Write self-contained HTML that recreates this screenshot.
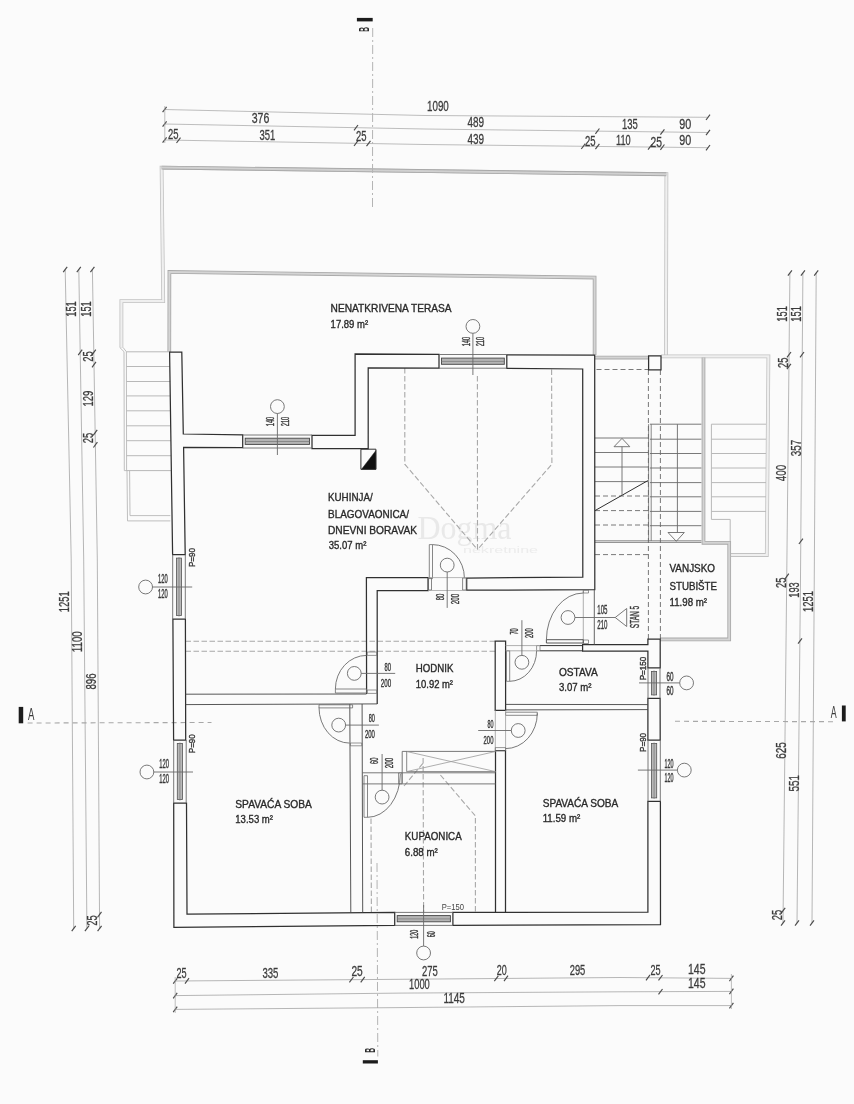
<!DOCTYPE html>
<html lang="hr"><head><meta charset="utf-8"><title>Tlocrt</title>
<style>
html,body{margin:0;padding:0;background:#fbfbfb;}
body{width:854px;height:1104px;overflow:hidden;}
svg{display:block;opacity:0.999;will-change:transform;}
</style></head><body>
<svg width="854" height="1104" viewBox="0 0 854 1104">
<rect width="854" height="1104" fill="#fbfbfb"/>
<text x="417.4" y="539.0" font-family='"Liberation Serif", serif' font-size="33" fill="#e9e9e9" text-anchor="start" font-weight="normal" textLength="94.0" lengthAdjust="spacingAndGlyphs" >Dogma</text>
<text x="463.0" y="553.0" font-family='"Liberation Sans", sans-serif' font-size="9" fill="#ececec" text-anchor="start" font-weight="normal" textLength="75.0" lengthAdjust="spacingAndGlyphs" >nekretnine</text>
<path d="M121.4,347.5 L121.4,301.1 L163.2,301.1 L161.6,167.6 L666.4,174.1 L666.0,355.0" fill="none" stroke="#c2c2c2" stroke-width="3.8" stroke-linejoin="miter"/>
<path d="M121.4,347.5 L121.4,301.1 L163.2,301.1 L161.6,167.6 L666.4,174.1 L666.0,355.0" fill="none" stroke="#efefef" stroke-width="2.2" stroke-linejoin="miter"/>
<path d="M161.6,167.6 L666.3,174.2" fill="none" stroke="#a8a8a8" stroke-width="3.9" />
<path d="M161.6,167.6 L666.3,174.2" fill="none" stroke="#d0d0d0" stroke-width="2.0" />
<path d="M169.3,352.0 L169.4,271.9 L594.6,277.6 L594.6,355.0" fill="none" stroke="#a8a8a8" stroke-width="3.7" stroke-linejoin="miter"/>
<path d="M169.3,352.0 L169.4,271.9 L594.6,277.6 L594.6,355.0" fill="none" stroke="#d4d4d4" stroke-width="2.0" stroke-linejoin="miter"/>
<path d="M595.0,357.6 L648.4,357.6" fill="none" stroke="#a8a8a8" stroke-width="3.7" stroke-linejoin="miter"/>
<path d="M595.0,357.6 L648.4,357.6" fill="none" stroke="#d4d4d4" stroke-width="2.0" stroke-linejoin="miter"/>
<path d="M661.0,356.3 L768.4,356.3 L766.8,555.0 L730.7,555.0" fill="none" stroke="#c2c2c2" stroke-width="3.8" stroke-linejoin="miter"/>
<path d="M661.0,356.3 L768.4,356.3 L766.8,555.0 L730.7,555.0" fill="none" stroke="#efefef" stroke-width="2.2" stroke-linejoin="miter"/>
<path d="M703.5,357.6 L703.5,542.8 L729.2,542.8 L729.2,639.4 L660.0,639.4" fill="none" stroke="#a8a8a8" stroke-width="3.7" stroke-linejoin="miter"/>
<path d="M703.5,357.6 L703.5,542.8 L729.2,542.8 L729.2,639.4 L660.0,639.4" fill="none" stroke="#d4d4d4" stroke-width="2.0" stroke-linejoin="miter"/>
<path d="M711.4,424.2 L711.4,519.4 L730.2,519.4 L730.2,541.3" fill="none" stroke="#b8b8b8" stroke-width="1.0" />
<path d="M119.8,347.5 L124.0,351.7 L124.3,470.6 L127.0,470.6" fill="none" stroke="#b8b8b8" stroke-width="0.9" />
<path d="M123.1,347.5 L126.4,351.7 L126.6,470.6" fill="none" stroke="#b8b8b8" stroke-width="0.9" />
<path d="M127.0,470.6 L127.5,520.9 L170.3,520.9" fill="none" stroke="#b8b8b8" stroke-width="0.9" />
<path d="M129.6,470.6 L130.0,515.6 L170.3,515.6" fill="none" stroke="#b8b8b8" stroke-width="0.9" />
<path d="M126.4,351.8 L169.8,351.8" fill="none" stroke="#b8b8b8" stroke-width="1.0" />
<path d="M126.4,366.5 L170.0,366.5" fill="none" stroke="#b8b8b8" stroke-width="1.0" />
<path d="M126.4,381.5 L170.2,381.5" fill="none" stroke="#b8b8b8" stroke-width="1.0" />
<path d="M126.4,395.9 L170.3,395.9" fill="none" stroke="#b8b8b8" stroke-width="1.0" />
<path d="M126.4,410.8 L170.5,410.8" fill="none" stroke="#b8b8b8" stroke-width="1.0" />
<path d="M126.4,425.8 L170.7,425.8" fill="none" stroke="#b8b8b8" stroke-width="1.0" />
<path d="M126.4,440.7 L170.9,440.7" fill="none" stroke="#b8b8b8" stroke-width="1.0" />
<path d="M126.4,455.7 L171.0,455.7" fill="none" stroke="#b8b8b8" stroke-width="1.0" />
<path d="M126.4,470.6 L171.2,470.6" fill="none" stroke="#b8b8b8" stroke-width="1.0" />
<path d="M711.4,424.2 L766.0,424.2" fill="none" stroke="#b8b8b8" stroke-width="1.0" />
<path d="M711.4,439.2 L766.0,439.2" fill="none" stroke="#b8b8b8" stroke-width="1.0" />
<path d="M711.4,453.5 L766.0,453.5" fill="none" stroke="#b8b8b8" stroke-width="1.0" />
<path d="M711.4,468.0 L766.0,468.0" fill="none" stroke="#b8b8b8" stroke-width="1.0" />
<path d="M711.4,482.6 L766.0,482.6" fill="none" stroke="#b8b8b8" stroke-width="1.0" />
<path d="M711.4,496.8 L766.0,496.8" fill="none" stroke="#b8b8b8" stroke-width="1.0" />
<path d="M711.4,511.4 L766.0,511.4" fill="none" stroke="#b8b8b8" stroke-width="1.0" />
<path d="M595.0,438.0 L648.0,438.0" fill="none" stroke="#6a6a6a" stroke-width="0.9" />
<path d="M595.0,452.5 L648.0,452.5" fill="none" stroke="#6a6a6a" stroke-width="0.9" />
<path d="M595.0,467.0 L648.0,467.0" fill="none" stroke="#6a6a6a" stroke-width="0.9" />
<path d="M595.0,481.6 L648.0,481.6" fill="none" stroke="#6a6a6a" stroke-width="0.9" />
<path d="M595.0,496.0 L648.0,496.0" fill="none" stroke="#6a6a6a" stroke-width="0.9" stroke-dasharray="5 3" />
<path d="M595.0,510.6 L648.0,510.6" fill="none" stroke="#6a6a6a" stroke-width="0.9" stroke-dasharray="5 3" />
<path d="M595.0,525.0 L648.0,525.0" fill="none" stroke="#6a6a6a" stroke-width="0.9" stroke-dasharray="5 3" />
<path d="M595.0,554.6 L648.0,554.6" fill="none" stroke="#6a6a6a" stroke-width="0.9" stroke-dasharray="5 3" />
<path d="M595.0,540.8 L701.4,540.8" fill="none" stroke="#6a6a6a" stroke-width="0.8" />
<path d="M595.0,542.4 L701.4,542.4" fill="none" stroke="#6a6a6a" stroke-width="0.8" />
<path d="M595.0,510.6 L647.9,480.6" fill="none" stroke="#303030" stroke-width="1.0" />
<path d="M614.0,446.7 L629.8,446.7 L622.0,438.4 Z" fill="none" stroke="#6a6a6a" stroke-width="0.9" />
<path d="M622.0,446.7 L622.0,495.6" fill="none" stroke="#6a6a6a" stroke-width="0.9" />
<path d="M649.9,424.2 L701.4,424.2" fill="none" stroke="#6a6a6a" stroke-width="0.9" />
<path d="M649.9,439.2 L701.4,439.2" fill="none" stroke="#6a6a6a" stroke-width="0.9" />
<path d="M649.9,453.5 L701.4,453.5" fill="none" stroke="#6a6a6a" stroke-width="0.9" />
<path d="M649.9,468.0 L701.4,468.0" fill="none" stroke="#6a6a6a" stroke-width="0.9" />
<path d="M649.9,482.6 L701.4,482.6" fill="none" stroke="#6a6a6a" stroke-width="0.9" />
<path d="M649.9,496.8 L701.4,496.8" fill="none" stroke="#6a6a6a" stroke-width="0.9" />
<path d="M649.9,511.4 L701.4,511.4" fill="none" stroke="#6a6a6a" stroke-width="0.9" />
<path d="M649.9,525.7 L701.4,525.7" fill="none" stroke="#6a6a6a" stroke-width="0.9" />
<path d="M648.6,424.2 L648.6,541.0" fill="none" stroke="#6a6a6a" stroke-width="0.8" />
<path d="M651.2,424.2 L651.2,541.0" fill="none" stroke="#6a6a6a" stroke-width="0.8" />
<path d="M677.4,424.2 L677.4,532.5" fill="none" stroke="#6a6a6a" stroke-width="0.9" />
<path d="M668.0,532.5 L684.3,532.5 L676.3,541.3 Z" fill="none" stroke="#6a6a6a" stroke-width="0.9" />
<path d="M596.5,369.5 L648.0,369.5" fill="none" stroke="#6a6a6a" stroke-width="0.9" stroke-dasharray="5 3" />
<path d="M648.4,370.0 L648.4,639.0" fill="none" stroke="#6a6a6a" stroke-width="0.9" stroke-dasharray="5 3" />
<path d="M660.4,370.0 L660.4,639.0" fill="none" stroke="#6a6a6a" stroke-width="0.9" stroke-dasharray="5 3" />
<path d="M404.8,368.0 L404.8,464.2 L477.5,549.6" fill="none" stroke="#a8a8a8" stroke-width="1.1" stroke-dasharray="5.5 2.5" />
<path d="M551.6,369.5 L551.9,464.2 L477.5,549.6" fill="none" stroke="#a8a8a8" stroke-width="1.1" stroke-dasharray="5.5 2.5" />
<path d="M477.4,376.0 L477.5,549.6" fill="none" stroke="#a8a8a8" stroke-width="1.1" stroke-dasharray="5.5 2.5" />
<path d="M185.5,641.3 L495.5,641.3" fill="none" stroke="#a8a8a8" stroke-width="1.1" stroke-dasharray="5.5 2.5" />
<path d="M185.5,651.3 L495.5,651.3" fill="none" stroke="#a8a8a8" stroke-width="1.1" stroke-dasharray="5.5 2.5" />
<path d="M371.0,818.5 L371.4,912.0" fill="none" stroke="#a8a8a8" stroke-width="1.1" stroke-dasharray="5.5 2.5" />
<path d="M440.4,775.0 L475.4,816.0 L475.4,912.0" fill="none" stroke="#a8a8a8" stroke-width="1.1" stroke-dasharray="5.5 2.5" />
<path d="M423.1,758.0 L423.6,912.0" fill="none" stroke="#a8a8a8" stroke-width="1.1" stroke-dasharray="5.5 2.5" />
<path d="M404.0,786.0 L424.0,762.0" fill="none" stroke="#a8a8a8" stroke-width="1.1" stroke-dasharray="5.5 2.5" />
<path d="M27.6,723.0 L211.5,722.5" fill="none" stroke="#a8a8a8" stroke-width="1.1" stroke-dasharray="5 4" />
<path d="M675.0,721.3 L836.8,721.7" fill="none" stroke="#a8a8a8" stroke-width="1.1" stroke-dasharray="5 4" />
<path d="M372.7,28.0 L372.5,208.0" fill="none" stroke="#b4b4b4" stroke-width="1.0" stroke-dasharray="9 3 2 3" />
<path d="M377.0,863.0 L377.8,1056.5" fill="none" stroke="#b4b4b4" stroke-width="1.0" stroke-dasharray="9 3 2 3" />
<path d="M172.6,554.6 L169.6,352.0 L181.8,352.0 L183.3,434.0 L242.7,434.9 L242.7,447.6 L183.6,447.5 L185.2,554.6 Z" fill="none" stroke="#303030" stroke-width="1.25" />
<path d="M172.9,619.0 L185.4,619.0 L185.7,740.0 L173.6,740.0 Z" fill="none" stroke="#303030" stroke-width="1.25" />
<path d="M173.7,803.1 L173.9,927.4 L394.7,925.4 L394.7,912.4 L187.0,914.1 L186.5,803.1 Z" fill="none" stroke="#303030" stroke-width="1.25" />
<path d="M452.9,912.4 L452.9,925.4 L660.5,924.7 L660.4,801.4 L647.9,801.4 L647.9,912.1 Z" fill="none" stroke="#303030" stroke-width="1.25" />
<path d="M647.9,698.4 L660.1,698.4 L660.2,740.0 L647.9,740.0 Z" fill="none" stroke="#303030" stroke-width="1.25" />
<path d="M582.6,644.6 L647.9,644.6 L647.9,639.0 L660.2,639.0 L660.2,667.9 L647.9,667.9 L647.9,651.2 L582.6,651.2 Z" fill="none" stroke="#303030" stroke-width="1.25" />
<path d="M540.0,645.6 L582.6,645.6" fill="none" stroke="#303030" stroke-width="1.0" />
<path d="M540.0,650.8 L582.6,650.8" fill="none" stroke="#303030" stroke-width="1.0" />
<path d="M495.2,641.0 L505.6,641.0 L505.6,710.3 L495.2,710.3 Z" fill="none" stroke="#303030" stroke-width="1.25" />
<path d="M495.5,912.3 L495.5,750.6 L505.5,750.6 L505.5,912.2" fill="none" stroke="#303030" stroke-width="1.25" />
<path d="M312.0,435.4 L355.1,435.4 L355.1,354.0 L439.0,354.4 L439.0,368.0 L368.2,367.8 L368.2,448.5 L312.0,448.5 Z" fill="none" stroke="#303030" stroke-width="1.25" />
<path d="M506.8,354.8 L594.7,355.2 L594.8,589.7 L466.7,590.2 L466.7,578.1 L582.8,577.1 L582.7,369.0 L506.8,368.4 Z" fill="none" stroke="#303030" stroke-width="1.25" />
<path d="M366.6,694.0 L366.4,577.6 L428.1,577.6 L428.1,590.5 L377.2,590.5 L377.2,703.9" fill="none" stroke="#303030" stroke-width="1.25" />
<path d="M648.6,355.9 L661.0,355.9 L661.0,369.8 L648.6,369.8 Z" fill="none" stroke="#303030" stroke-width="1.25" />
<path d="M360.9,449.2 L375.9,449.2 L375.9,469.3 L360.9,469.3 Z" fill="none" stroke="#303030" stroke-width="1.0" />
<path d="M375.9,450.5 L375.9,469.3 L361.5,469.3 Z" fill="#111" stroke="#303030" stroke-width="0.5" />
<path d="M185.6,694.2 L366.4,694.0" fill="none" stroke="#444" stroke-width="0.9" />
<path d="M185.6,704.6 L377.2,703.9" fill="none" stroke="#444" stroke-width="0.9" />
<path d="M349.8,704.0 L350.8,912.8" fill="none" stroke="#444" stroke-width="0.9" />
<path d="M362.1,704.0 L362.7,912.6" fill="none" stroke="#444" stroke-width="0.9" />
<path d="M362.2,772.8 L495.5,772.8" fill="none" stroke="#6a6a6a" stroke-width="0.9" />
<path d="M362.2,783.9 L495.5,783.9" fill="none" stroke="#6a6a6a" stroke-width="0.9" />
<path d="M402.2,783.5 L402.2,751.4 L495.5,751.4" fill="none" stroke="#6a6a6a" stroke-width="0.9" />
<path d="M406.7,751.1 L406.7,771.6 L495.5,771.6" fill="none" stroke="#6a6a6a" stroke-width="0.8" />
<path d="M406.7,751.5 L495.5,771.6" fill="none" stroke="#9a9a9a" stroke-width="0.8" />
<path d="M406.7,771.6 L495.5,751.5" fill="none" stroke="#9a9a9a" stroke-width="0.8" />
<path d="M505.6,704.4 L647.9,704.6" fill="none" stroke="#444" stroke-width="0.9" />
<path d="M505.6,709.9 L647.9,709.6" fill="none" stroke="#444" stroke-width="0.9" />
<path d="M583.3,590.0 L583.3,644.0" fill="none" stroke="#9a9a9a" stroke-width="0.8" />
<path d="M594.3,589.7 L594.3,644.6" fill="none" stroke="#555" stroke-width="0.9" />
<path d="M242.7,435.0 L312.0,435.0" fill="none" stroke="#6a6a6a" stroke-width="0.9" />
<path d="M242.7,448.0 L312.0,448.0" fill="none" stroke="#6a6a6a" stroke-width="0.9" />
<rect x="245.2" y="438.2" width="64.3" height="6.2" fill="#b4b4b4" stroke="#444" stroke-width="0.9"/>
<path d="M245.2,441.5 L309.5,441.5" fill="none" stroke="#777" stroke-width="0.7" />
<path d="M439.0,354.5 L506.8,354.5" fill="none" stroke="#6a6a6a" stroke-width="0.9" />
<path d="M439.0,368.2 L506.8,368.2" fill="none" stroke="#6a6a6a" stroke-width="0.9" />
<rect x="441.5" y="358.1" width="62.8" height="6.2" fill="#b4b4b4" stroke="#444" stroke-width="0.9"/>
<path d="M441.5,361.4 L504.3,361.4" fill="none" stroke="#777" stroke-width="0.7" />
<path d="M394.7,912.4 L452.9,912.4" fill="none" stroke="#6a6a6a" stroke-width="0.9" />
<path d="M394.7,925.4 L452.9,925.4" fill="none" stroke="#6a6a6a" stroke-width="0.9" />
<rect x="397.2" y="915.6" width="53.2" height="6.2" fill="#b4b4b4" stroke="#444" stroke-width="0.9"/>
<path d="M397.2,918.9 L450.4,918.9" fill="none" stroke="#777" stroke-width="0.7" />
<path d="M172.7,554.6 L172.7,619.0" fill="none" stroke="#6a6a6a" stroke-width="0.9" />
<path d="M185.3,554.6 L185.3,619.0" fill="none" stroke="#6a6a6a" stroke-width="0.9" />
<rect x="176.4" y="558.1" width="5.2" height="57.4" fill="#b8b8b8" stroke="#555" stroke-width="0.8"/>
<path d="M179.0,557.1 L179.0,616.5" fill="none" stroke="#777" stroke-width="0.7" />
<path d="M173.7,740.0 L173.7,803.1" fill="none" stroke="#6a6a6a" stroke-width="0.9" />
<path d="M186.2,740.0 L186.2,803.1" fill="none" stroke="#6a6a6a" stroke-width="0.9" />
<rect x="177.3" y="743.5" width="5.2" height="56.1" fill="#b8b8b8" stroke="#555" stroke-width="0.8"/>
<path d="M179.9,742.5 L179.9,800.6" fill="none" stroke="#777" stroke-width="0.7" />
<path d="M648.0,667.9 L648.0,698.4" fill="none" stroke="#6a6a6a" stroke-width="0.9" />
<path d="M660.0,667.9 L660.0,698.4" fill="none" stroke="#6a6a6a" stroke-width="0.9" />
<rect x="651.4" y="671.4" width="5.2" height="23.5" fill="#b8b8b8" stroke="#555" stroke-width="0.8"/>
<path d="M654.0,670.4 L654.0,695.9" fill="none" stroke="#777" stroke-width="0.7" />
<path d="M648.0,740.0 L648.0,801.4" fill="none" stroke="#6a6a6a" stroke-width="0.9" />
<path d="M660.3,740.0 L660.3,801.4" fill="none" stroke="#6a6a6a" stroke-width="0.9" />
<rect x="651.5" y="743.5" width="5.2" height="54.4" fill="#b8b8b8" stroke="#555" stroke-width="0.8"/>
<path d="M654.1,742.5 L654.1,798.9" fill="none" stroke="#777" stroke-width="0.7" />
<circle cx="277.4" cy="406.6" r="6.9" fill="none" stroke="#6a6a6a" stroke-width="0.9"/>
<path d="M277.4,413.5 L277.4,455.0" fill="none" stroke="#6a6a6a" stroke-width="0.9" />
<circle cx="472.9" cy="326.4" r="6.9" fill="none" stroke="#6a6a6a" stroke-width="0.9"/>
<path d="M472.9,333.3 L472.9,375.0" fill="none" stroke="#6a6a6a" stroke-width="0.9" />
<circle cx="145.6" cy="587.0" r="6.9" fill="none" stroke="#6a6a6a" stroke-width="0.9"/>
<path d="M152.5,587.0 L192.2,587.0" fill="none" stroke="#6a6a6a" stroke-width="0.9" />
<circle cx="146.9" cy="772.0" r="6.9" fill="none" stroke="#6a6a6a" stroke-width="0.9"/>
<path d="M153.8,772.0 L193.0,772.0" fill="none" stroke="#6a6a6a" stroke-width="0.9" />
<circle cx="686.6" cy="682.9" r="6.9" fill="none" stroke="#6a6a6a" stroke-width="0.9"/>
<path d="M679.7,682.9 L639.0,682.9" fill="none" stroke="#6a6a6a" stroke-width="0.9" />
<circle cx="684.3" cy="770.1" r="6.9" fill="none" stroke="#6a6a6a" stroke-width="0.9"/>
<path d="M677.4,770.1 L637.9,770.1" fill="none" stroke="#6a6a6a" stroke-width="0.9" />
<circle cx="423.6" cy="953.0" r="6.9" fill="none" stroke="#6a6a6a" stroke-width="0.9"/>
<path d="M423.6,946.1 L423.6,905.0" fill="none" stroke="#6a6a6a" stroke-width="0.9" />
<path d="M429.3,544.6 L432.5,544.6 L432.5,578.6 L429.3,578.6 Z" fill="none" stroke="#6a6a6a" stroke-width="0.8" />
<path d="M432.5,544.6 A32,33.4 0 0 1 464.4,578.0" fill="none" stroke="#6a6a6a" stroke-width="0.9"/>
<path d="M462.6,578.0 L466.2,578.0 L466.2,590.0 L462.6,590.0 Z" fill="none" stroke="#6a6a6a" stroke-width="0.8" />
<path d="M428.1,578.0 L431.5,578.0 L431.5,590.0 L428.1,590.0 Z" fill="none" stroke="#6a6a6a" stroke-width="0.8" />
<path d="M428.1,577.6 L466.2,577.6" fill="none" stroke="#9a9a9a" stroke-width="0.7" />
<path d="M428.1,590.5 L466.2,590.5" fill="none" stroke="#9a9a9a" stroke-width="0.7" />
<circle cx="447.2" cy="565.1" r="6.9" fill="none" stroke="#6a6a6a" stroke-width="0.9"/>
<path d="M447.2,572.0 L447.2,607.9" fill="none" stroke="#6a6a6a" stroke-width="0.9" />
<path d="M335.4,689.0 L366.6,689.0 L366.6,693.0 L335.4,693.0 Z" fill="none" stroke="#6a6a6a" stroke-width="0.8" />
<path d="M335.4,689.0 A31.2,33.6 0 0 1 366.6,655.4" fill="none" stroke="#6a6a6a" stroke-width="0.9"/>
<path d="M367.2,652.0 L376.8,652.0 L376.8,655.4 L367.2,655.4 Z" fill="none" stroke="#6a6a6a" stroke-width="0.7" />
<path d="M367.2,690.0 L376.8,690.0 L376.8,693.4 L367.2,693.4 Z" fill="none" stroke="#6a6a6a" stroke-width="0.7" />
<circle cx="354.3" cy="673.4" r="6.9" fill="none" stroke="#6a6a6a" stroke-width="0.9"/>
<path d="M361.2,673.4 L395.2,673.4" fill="none" stroke="#6a6a6a" stroke-width="0.9" />
<path d="M319.0,704.8 L352.6,704.8 L352.6,707.9 L319.0,707.9 Z" fill="none" stroke="#6a6a6a" stroke-width="0.8" />
<path d="M319.0,707.5 A30.6,35.6 0 0 0 349.6,743.1" fill="none" stroke="#6a6a6a" stroke-width="0.9"/>
<path d="M350.4,743.0 L361.8,743.0 L361.8,745.8 L350.4,745.8 Z" fill="none" stroke="#6a6a6a" stroke-width="0.7" />
<circle cx="338.7" cy="725.1" r="6.9" fill="none" stroke="#6a6a6a" stroke-width="0.9"/>
<path d="M345.6,725.1 L378.9,725.1" fill="none" stroke="#6a6a6a" stroke-width="0.9" />
<path d="M364.0,775.7 L367.5,775.7 L367.5,817.3 L364.0,817.3 Z" fill="none" stroke="#6a6a6a" stroke-width="0.8" />
<path d="M367.5,817.3 A32.8,43.3 0 0 0 400.3,774.0" fill="none" stroke="#6a6a6a" stroke-width="0.9"/>
<path d="M398.5,773.0 L402.0,773.0 L402.0,783.8 L398.5,783.8 Z" fill="none" stroke="#6a6a6a" stroke-width="0.7" />
<circle cx="382.1" cy="797.1" r="6.9" fill="none" stroke="#6a6a6a" stroke-width="0.9"/>
<path d="M382.1,790.2 L382.1,754.0" fill="none" stroke="#6a6a6a" stroke-width="0.9" />
<path d="M546.4,639.7 L583.3,639.7 L583.3,643.0 L546.4,643.0 Z" fill="none" stroke="#444" stroke-width="0.9" />
<path d="M546.4,640.0 A36.9,47 0 0 1 583.3,593.0" fill="none" stroke="#6a6a6a" stroke-width="0.9"/>
<path d="M583.3,590.2 L588.5,590.2 L588.5,593.0 L583.3,593.0 Z" fill="none" stroke="#6a6a6a" stroke-width="0.7" />
<path d="M583.3,640.0 L588.5,640.0 L588.5,643.5 L583.3,643.5 Z" fill="none" stroke="#6a6a6a" stroke-width="0.7" />
<circle cx="568.0" cy="617.5" r="6.9" fill="none" stroke="#6a6a6a" stroke-width="0.9"/>
<path d="M575.0,617.5 L615.2,617.5" fill="none" stroke="#6a6a6a" stroke-width="0.9" />
<path d="M615.2,617.5 L626.7,608.5 L626.7,626.5 Z" fill="none" stroke="#6a6a6a" stroke-width="0.9" />
<path d="M506.4,650.8 L509.7,650.8 L509.7,681.3 L506.4,681.3 Z" fill="none" stroke="#6a6a6a" stroke-width="0.8" />
<path d="M509.7,681.3 A27,30.5 0 0 0 536.6,650.8" fill="none" stroke="#6a6a6a" stroke-width="0.9"/>
<path d="M536.6,645.6 L540.0,645.6 L540.0,650.8 L536.6,650.8 Z" fill="none" stroke="#6a6a6a" stroke-width="0.7" />
<path d="M505.6,645.6 L540.0,645.6" fill="none" stroke="#9a9a9a" stroke-width="0.8" />
<path d="M505.6,650.8 L540.0,650.8" fill="none" stroke="#9a9a9a" stroke-width="0.8" />
<circle cx="521.9" cy="662.3" r="6.9" fill="none" stroke="#6a6a6a" stroke-width="0.9"/>
<path d="M521.9,655.4 L521.9,620.2" fill="none" stroke="#6a6a6a" stroke-width="0.9" />
<path d="M505.6,712.2 L537.3,712.2 L537.3,715.3 L505.6,715.3 Z" fill="none" stroke="#6a6a6a" stroke-width="0.8" />
<path d="M537.3,713.3 A31.7,35.3 0 0 1 505.6,748.6" fill="none" stroke="#6a6a6a" stroke-width="0.9"/>
<path d="M495.3,710.3 L495.3,750.6" fill="none" stroke="#9a9a9a" stroke-width="0.8" />
<path d="M505.6,710.3 L505.6,750.6" fill="none" stroke="#9a9a9a" stroke-width="0.8" />
<path d="M495.3,747.6 L505.6,747.6 L505.6,750.6 L495.3,750.6 Z" fill="none" stroke="#6a6a6a" stroke-width="0.7" />
<circle cx="518.2" cy="730.5" r="6.9" fill="none" stroke="#6a6a6a" stroke-width="0.9"/>
<path d="M511.3,730.5 L478.2,730.5" fill="none" stroke="#6a6a6a" stroke-width="0.9" />
<path d="M164.6,109.5 L425.0,115.5 L708.0,117.3" fill="none" stroke="#b6b6b6" stroke-width="0.9" />
<path d="M164.6,124.0 L425.0,129.0 L708.0,132.5" fill="none" stroke="#b6b6b6" stroke-width="0.9" />
<path d="M164.6,140.0 L425.0,144.5 L708.0,147.7" fill="none" stroke="#b6b6b6" stroke-width="0.9" />
<path d="M162.6,112.2 L166.6,106.8" fill="none" stroke="#4a4a4a" stroke-width="1.15" />
<path d="M706.0,120.0 L710.0,114.6" fill="none" stroke="#4a4a4a" stroke-width="1.15" />
<path d="M162.6,126.7 L166.6,121.3" fill="none" stroke="#4a4a4a" stroke-width="1.15" />
<path d="M354.0,130.4 L358.0,125.0" fill="none" stroke="#4a4a4a" stroke-width="1.15" />
<path d="M595.4,133.9 L599.4,128.5" fill="none" stroke="#4a4a4a" stroke-width="1.15" />
<path d="M660.4,134.7 L664.4,129.3" fill="none" stroke="#4a4a4a" stroke-width="1.15" />
<path d="M706.0,135.2 L710.0,129.8" fill="none" stroke="#4a4a4a" stroke-width="1.15" />
<path d="M162.6,142.7 L166.6,137.3" fill="none" stroke="#4a4a4a" stroke-width="1.15" />
<path d="M176.5,143.0 L180.5,137.6" fill="none" stroke="#4a4a4a" stroke-width="1.15" />
<path d="M354.0,146.0 L358.0,140.6" fill="none" stroke="#4a4a4a" stroke-width="1.15" />
<path d="M366.5,146.2 L370.5,140.8" fill="none" stroke="#4a4a4a" stroke-width="1.15" />
<path d="M581.3,149.0 L585.3,143.6" fill="none" stroke="#4a4a4a" stroke-width="1.15" />
<path d="M595.4,149.2 L599.4,143.8" fill="none" stroke="#4a4a4a" stroke-width="1.15" />
<path d="M648.0,149.7 L652.0,144.3" fill="none" stroke="#4a4a4a" stroke-width="1.15" />
<path d="M660.4,149.9 L664.4,144.5" fill="none" stroke="#4a4a4a" stroke-width="1.15" />
<path d="M706.0,150.4 L710.0,145.0" fill="none" stroke="#4a4a4a" stroke-width="1.15" />
<path d="M164.8,106.0 L164.8,143.0" fill="none" stroke="#a4a4a4" stroke-width="0.7" />
<path d="M175.2,981.0 L400.0,979.3 L620.0,977.5 L731.4,978.4" fill="none" stroke="#a4a4a4" stroke-width="0.8" />
<path d="M175.2,995.6 L400.0,993.1 L620.0,991.8 L731.4,991.4" fill="none" stroke="#a4a4a4" stroke-width="0.8" />
<path d="M175.2,1009.4 L400.0,1007.6 L620.0,1005.6 L731.4,1005.6" fill="none" stroke="#a4a4a4" stroke-width="0.8" />
<path d="M173.2,983.7 L177.2,978.3" fill="none" stroke="#4a4a4a" stroke-width="1.15" />
<path d="M185.0,983.6 L189.0,978.2" fill="none" stroke="#4a4a4a" stroke-width="1.15" />
<path d="M349.4,982.4 L353.4,977.0" fill="none" stroke="#4a4a4a" stroke-width="1.15" />
<path d="M360.7,982.3 L364.7,976.9" fill="none" stroke="#4a4a4a" stroke-width="1.15" />
<path d="M494.3,981.2 L498.3,975.8" fill="none" stroke="#4a4a4a" stroke-width="1.15" />
<path d="M504.0,981.1 L508.0,975.7" fill="none" stroke="#4a4a4a" stroke-width="1.15" />
<path d="M646.0,980.3 L650.0,974.9" fill="none" stroke="#4a4a4a" stroke-width="1.15" />
<path d="M658.5,980.4 L662.5,975.0" fill="none" stroke="#4a4a4a" stroke-width="1.15" />
<path d="M729.4,981.1 L733.4,975.7" fill="none" stroke="#4a4a4a" stroke-width="1.15" />
<path d="M173.2,998.3 L177.2,992.9" fill="none" stroke="#4a4a4a" stroke-width="1.15" />
<path d="M658.5,994.4 L662.5,989.0" fill="none" stroke="#4a4a4a" stroke-width="1.15" />
<path d="M729.4,994.1 L733.4,988.7" fill="none" stroke="#4a4a4a" stroke-width="1.15" />
<path d="M173.2,1012.1 L177.2,1006.7" fill="none" stroke="#4a4a4a" stroke-width="1.15" />
<path d="M729.4,1008.3 L733.4,1002.9" fill="none" stroke="#4a4a4a" stroke-width="1.15" />
<path d="M175.2,977.0 L175.2,1013.0" fill="none" stroke="#a4a4a4" stroke-width="0.7" />
<path d="M731.4,974.0 L731.4,1009.0" fill="none" stroke="#a4a4a4" stroke-width="0.7" />
<path d="M65.2,269.5 L71.2,559.0 L73.7,928.5" fill="none" stroke="#a4a4a4" stroke-width="0.8" />
<path d="M78.8,269.5 L83.7,559.0 L86.9,928.5" fill="none" stroke="#a4a4a4" stroke-width="0.8" />
<path d="M92.4,269.5 L97.3,559.0 L99.6,928.5" fill="none" stroke="#a4a4a4" stroke-width="0.8" />
<path d="M63.2,272.2 L67.2,266.8" fill="none" stroke="#4a4a4a" stroke-width="1.15" />
<path d="M76.8,272.2 L80.8,266.8" fill="none" stroke="#4a4a4a" stroke-width="1.15" />
<path d="M90.4,272.2 L94.4,266.8" fill="none" stroke="#4a4a4a" stroke-width="1.15" />
<path d="M78.2,355.1 L82.2,349.7" fill="none" stroke="#4a4a4a" stroke-width="1.15" />
<path d="M91.8,355.1 L95.8,349.7" fill="none" stroke="#4a4a4a" stroke-width="1.15" />
<path d="M92.0,367.3 L96.0,361.9" fill="none" stroke="#4a4a4a" stroke-width="1.15" />
<path d="M93.2,435.3 L97.2,429.9" fill="none" stroke="#4a4a4a" stroke-width="1.15" />
<path d="M93.4,447.5 L97.4,442.1" fill="none" stroke="#4a4a4a" stroke-width="1.15" />
<path d="M71.7,931.2 L75.7,925.8" fill="none" stroke="#4a4a4a" stroke-width="1.15" />
<path d="M84.9,931.2 L88.9,925.8" fill="none" stroke="#4a4a4a" stroke-width="1.15" />
<path d="M97.6,931.2 L101.6,925.8" fill="none" stroke="#4a4a4a" stroke-width="1.15" />
<path d="M97.5,917.3 L101.5,911.9" fill="none" stroke="#4a4a4a" stroke-width="1.15" />
<path d="M789.9,273.0 L786.6,590.0 L783.0,923.0" fill="none" stroke="#a4a4a4" stroke-width="0.8" />
<path d="M802.9,273.0 L800.4,590.0 L797.0,923.0" fill="none" stroke="#a4a4a4" stroke-width="0.8" />
<path d="M816.2,273.0 L814.2,590.0 L812.0,923.0" fill="none" stroke="#a4a4a4" stroke-width="0.8" />
<path d="M787.9,275.7 L791.9,270.3" fill="none" stroke="#4a4a4a" stroke-width="1.15" />
<path d="M800.9,275.7 L804.9,270.3" fill="none" stroke="#4a4a4a" stroke-width="1.15" />
<path d="M814.2,275.7 L818.2,270.3" fill="none" stroke="#4a4a4a" stroke-width="1.15" />
<path d="M787.0,357.4 L791.0,352.0" fill="none" stroke="#4a4a4a" stroke-width="1.15" />
<path d="M800.0,357.4 L804.0,352.0" fill="none" stroke="#4a4a4a" stroke-width="1.15" />
<path d="M786.9,369.2 L790.9,363.8" fill="none" stroke="#4a4a4a" stroke-width="1.15" />
<path d="M798.9,544.0 L802.9,538.6" fill="none" stroke="#4a4a4a" stroke-width="1.15" />
<path d="M784.8,579.1 L788.8,573.7" fill="none" stroke="#4a4a4a" stroke-width="1.15" />
<path d="M798.0,643.7 L802.0,638.3" fill="none" stroke="#4a4a4a" stroke-width="1.15" />
<path d="M781.0,925.7 L785.0,920.3" fill="none" stroke="#4a4a4a" stroke-width="1.15" />
<path d="M795.0,925.7 L799.0,920.3" fill="none" stroke="#4a4a4a" stroke-width="1.15" />
<path d="M810.0,925.7 L814.0,920.3" fill="none" stroke="#4a4a4a" stroke-width="1.15" />
<path d="M781.2,913.2 L785.2,907.8" fill="none" stroke="#4a4a4a" stroke-width="1.15" />
<rect x="356.9" y="17.9" width="15.8" height="3.5" fill="#1c1c1c"/>
<text x="363.5" y="29.3" font-family='"Liberation Sans", sans-serif' font-size="15.5" fill="#2a2a2a" text-anchor="middle" font-weight="bold" textLength="4.7" lengthAdjust="spacingAndGlyphs" transform="rotate(-90 363.5 29.3)" dy="5.6">B</text>
<rect x="362.8" y="1060.2" width="15.1" height="3.3" fill="#1c1c1c"/>
<text x="369.2" y="1050.4" font-family='"Liberation Sans", sans-serif' font-size="15.5" fill="#2a2a2a" text-anchor="middle" font-weight="bold" textLength="4.9" lengthAdjust="spacingAndGlyphs" transform="rotate(-90 369.2 1050.4)" dy="5.6">B</text>
<rect x="18.7" y="706.9" width="4.5" height="16.4" fill="#1c1c1c"/>
<text x="28.1" y="719.5" font-family='"Liberation Sans", sans-serif' font-size="16" fill="#3a3a3a" text-anchor="start" font-weight="normal" textLength="6.4" lengthAdjust="spacingAndGlyphs" >A</text>
<rect x="841.9" y="705.5" width="3.8" height="15.9" fill="#1c1c1c"/>
<text x="830.7" y="717.9" font-family='"Liberation Sans", sans-serif' font-size="16" fill="#3a3a3a" text-anchor="start" font-weight="normal" textLength="5.9" lengthAdjust="spacingAndGlyphs" >A</text>
<text x="330.6" y="312.0" font-family='"Liberation Sans", sans-serif' font-size="10.6" fill="#2a2a2a" text-anchor="start" font-weight="normal" textLength="121.0" lengthAdjust="spacingAndGlyphs" stroke="#2a2a2a" stroke-width="0.35">NENATKRIVENA TERASA</text>
<text x="330.6" y="327.6" font-family='"Liberation Sans", sans-serif' font-size="10.6" fill="#2a2a2a" text-anchor="start" font-weight="normal" textLength="37.5" lengthAdjust="spacingAndGlyphs" stroke="#2a2a2a" stroke-width="0.35">17.89 m²</text>
<text x="328.0" y="501.2" font-family='"Liberation Sans", sans-serif' font-size="10.6" fill="#2a2a2a" text-anchor="start" font-weight="normal" textLength="44.7" lengthAdjust="spacingAndGlyphs" stroke="#2a2a2a" stroke-width="0.35">KUHINJA/</text>
<text x="328.0" y="518.0" font-family='"Liberation Sans", sans-serif' font-size="10.6" fill="#2a2a2a" text-anchor="start" font-weight="normal" textLength="81.0" lengthAdjust="spacingAndGlyphs" stroke="#2a2a2a" stroke-width="0.35">BLAGOVAONICA/</text>
<text x="328.0" y="533.6" font-family='"Liberation Sans", sans-serif' font-size="10.6" fill="#2a2a2a" text-anchor="start" font-weight="normal" textLength="89.0" lengthAdjust="spacingAndGlyphs" stroke="#2a2a2a" stroke-width="0.35">DNEVNI BORAVAK</text>
<text x="328.8" y="549.4" font-family='"Liberation Sans", sans-serif' font-size="10.6" fill="#2a2a2a" text-anchor="start" font-weight="normal" textLength="37.5" lengthAdjust="spacingAndGlyphs" stroke="#2a2a2a" stroke-width="0.35">35.07 m²</text>
<text x="415.8" y="672.2" font-family='"Liberation Sans", sans-serif' font-size="10.6" fill="#2a2a2a" text-anchor="start" font-weight="normal" textLength="37.6" lengthAdjust="spacingAndGlyphs" stroke="#2a2a2a" stroke-width="0.35">HODNIK</text>
<text x="415.8" y="688.0" font-family='"Liberation Sans", sans-serif' font-size="10.6" fill="#2a2a2a" text-anchor="start" font-weight="normal" textLength="37.2" lengthAdjust="spacingAndGlyphs" stroke="#2a2a2a" stroke-width="0.35">10.92 m²</text>
<text x="559.0" y="676.0" font-family='"Liberation Sans", sans-serif' font-size="10.6" fill="#2a2a2a" text-anchor="start" font-weight="normal" textLength="38.8" lengthAdjust="spacingAndGlyphs" stroke="#2a2a2a" stroke-width="0.35">OSTAVA</text>
<text x="559.0" y="691.0" font-family='"Liberation Sans", sans-serif' font-size="10.6" fill="#2a2a2a" text-anchor="start" font-weight="normal" textLength="32.5" lengthAdjust="spacingAndGlyphs" stroke="#2a2a2a" stroke-width="0.35">3.07 m²</text>
<text x="669.5" y="572.0" font-family='"Liberation Sans", sans-serif' font-size="10.6" fill="#2a2a2a" text-anchor="start" font-weight="normal" textLength="45.5" lengthAdjust="spacingAndGlyphs" stroke="#2a2a2a" stroke-width="0.35">VANJSKO</text>
<text x="669.5" y="590.1" font-family='"Liberation Sans", sans-serif' font-size="10.6" fill="#2a2a2a" text-anchor="start" font-weight="normal" textLength="47.5" lengthAdjust="spacingAndGlyphs" stroke="#2a2a2a" stroke-width="0.35">STUBIŠTE</text>
<text x="669.5" y="605.8" font-family='"Liberation Sans", sans-serif' font-size="10.6" fill="#2a2a2a" text-anchor="start" font-weight="normal" textLength="37.6" lengthAdjust="spacingAndGlyphs" stroke="#2a2a2a" stroke-width="0.35">11.98 m²</text>
<text x="235.3" y="808.2" font-family='"Liberation Sans", sans-serif' font-size="10.6" fill="#2a2a2a" text-anchor="start" font-weight="normal" textLength="76.5" lengthAdjust="spacingAndGlyphs" stroke="#2a2a2a" stroke-width="0.35">SPAVAĆA SOBA</text>
<text x="235.3" y="823.3" font-family='"Liberation Sans", sans-serif' font-size="10.6" fill="#2a2a2a" text-anchor="start" font-weight="normal" textLength="37.7" lengthAdjust="spacingAndGlyphs" stroke="#2a2a2a" stroke-width="0.35">13.53 m²</text>
<text x="542.7" y="806.5" font-family='"Liberation Sans", sans-serif' font-size="10.6" fill="#2a2a2a" text-anchor="start" font-weight="normal" textLength="75.6" lengthAdjust="spacingAndGlyphs" stroke="#2a2a2a" stroke-width="0.35">SPAVAĆA SOBA</text>
<text x="542.7" y="821.5" font-family='"Liberation Sans", sans-serif' font-size="10.6" fill="#2a2a2a" text-anchor="start" font-weight="normal" textLength="37.6" lengthAdjust="spacingAndGlyphs" stroke="#2a2a2a" stroke-width="0.35">11.59 m²</text>
<text x="404.8" y="840.3" font-family='"Liberation Sans", sans-serif' font-size="10.6" fill="#2a2a2a" text-anchor="start" font-weight="normal" textLength="56.9" lengthAdjust="spacingAndGlyphs" stroke="#2a2a2a" stroke-width="0.35">KUPAONICA</text>
<text x="404.8" y="855.8" font-family='"Liberation Sans", sans-serif' font-size="10.6" fill="#2a2a2a" text-anchor="start" font-weight="normal" textLength="33.0" lengthAdjust="spacingAndGlyphs" stroke="#2a2a2a" stroke-width="0.35">6.88 m²</text>
<text x="441.7" y="909.5" font-family='"Liberation Sans", sans-serif' font-size="9.5" fill="#444" text-anchor="start" font-weight="normal" textLength="22.3" lengthAdjust="spacingAndGlyphs" >P=150</text>
<text x="191.5" y="557.6" font-family='"Liberation Sans", sans-serif' font-size="9" fill="#3a3a3a" text-anchor="middle" font-weight="normal" textLength="19.0" lengthAdjust="spacingAndGlyphs" transform="rotate(-90 191.5 557.6)" dy="3.2" stroke="#3a3a3a" stroke-width="0.42">P=90</text>
<text x="191.5" y="743.7" font-family='"Liberation Sans", sans-serif' font-size="9" fill="#3a3a3a" text-anchor="middle" font-weight="normal" textLength="19.0" lengthAdjust="spacingAndGlyphs" transform="rotate(-90 191.5 743.7)" dy="3.2" stroke="#3a3a3a" stroke-width="0.42">P=90</text>
<text x="642.4" y="668.5" font-family='"Liberation Sans", sans-serif' font-size="9" fill="#3a3a3a" text-anchor="middle" font-weight="normal" textLength="23.5" lengthAdjust="spacingAndGlyphs" transform="rotate(-90 642.4 668.5)" dy="3.2" stroke="#3a3a3a" stroke-width="0.42">P=150</text>
<text x="642.4" y="742.4" font-family='"Liberation Sans", sans-serif' font-size="9" fill="#3a3a3a" text-anchor="middle" font-weight="normal" textLength="19.0" lengthAdjust="spacingAndGlyphs" transform="rotate(-90 642.4 742.4)" dy="3.2" stroke="#3a3a3a" stroke-width="0.42">P=90</text>
<text x="158.0" y="583.1" font-family='"Liberation Sans", sans-serif' font-size="12" fill="#3a3a3a" text-anchor="start" font-weight="normal" textLength="9.7" lengthAdjust="spacingAndGlyphs" stroke="#3a3a3a" stroke-width="0.42">120</text>
<text x="158.0" y="598.2" font-family='"Liberation Sans", sans-serif' font-size="12" fill="#3a3a3a" text-anchor="start" font-weight="normal" textLength="9.7" lengthAdjust="spacingAndGlyphs" stroke="#3a3a3a" stroke-width="0.42">120</text>
<text x="159.3" y="768.0" font-family='"Liberation Sans", sans-serif' font-size="12" fill="#3a3a3a" text-anchor="start" font-weight="normal" textLength="9.7" lengthAdjust="spacingAndGlyphs" stroke="#3a3a3a" stroke-width="0.42">120</text>
<text x="159.3" y="783.1" font-family='"Liberation Sans", sans-serif' font-size="12" fill="#3a3a3a" text-anchor="start" font-weight="normal" textLength="9.7" lengthAdjust="spacingAndGlyphs" stroke="#3a3a3a" stroke-width="0.42">120</text>
<text x="666.5" y="680.5" font-family='"Liberation Sans", sans-serif' font-size="12" fill="#3a3a3a" text-anchor="start" font-weight="normal" textLength="7.0" lengthAdjust="spacingAndGlyphs" stroke="#3a3a3a" stroke-width="0.42">60</text>
<text x="666.5" y="694.8" font-family='"Liberation Sans", sans-serif' font-size="12" fill="#3a3a3a" text-anchor="start" font-weight="normal" textLength="7.0" lengthAdjust="spacingAndGlyphs" stroke="#3a3a3a" stroke-width="0.42">60</text>
<text x="664.5" y="767.5" font-family='"Liberation Sans", sans-serif' font-size="12" fill="#3a3a3a" text-anchor="start" font-weight="normal" textLength="9.0" lengthAdjust="spacingAndGlyphs" stroke="#3a3a3a" stroke-width="0.42">120</text>
<text x="664.5" y="782.0" font-family='"Liberation Sans", sans-serif' font-size="12" fill="#3a3a3a" text-anchor="start" font-weight="normal" textLength="9.0" lengthAdjust="spacingAndGlyphs" stroke="#3a3a3a" stroke-width="0.42">120</text>
<text x="384.6" y="670.7" font-family='"Liberation Sans", sans-serif' font-size="11.5" fill="#3a3a3a" text-anchor="start" font-weight="normal" textLength="6.5" lengthAdjust="spacingAndGlyphs" stroke="#3a3a3a" stroke-width="0.42">80</text>
<text x="380.8" y="687.1" font-family='"Liberation Sans", sans-serif' font-size="11.5" fill="#3a3a3a" text-anchor="start" font-weight="normal" textLength="10.3" lengthAdjust="spacingAndGlyphs" stroke="#3a3a3a" stroke-width="0.42">200</text>
<text x="368.7" y="722.3" font-family='"Liberation Sans", sans-serif' font-size="11.5" fill="#3a3a3a" text-anchor="start" font-weight="normal" textLength="6.2" lengthAdjust="spacingAndGlyphs" stroke="#3a3a3a" stroke-width="0.42">80</text>
<text x="364.9" y="737.9" font-family='"Liberation Sans", sans-serif' font-size="11.5" fill="#3a3a3a" text-anchor="start" font-weight="normal" textLength="10.0" lengthAdjust="spacingAndGlyphs" stroke="#3a3a3a" stroke-width="0.42">200</text>
<text x="487.4" y="728.0" font-family='"Liberation Sans", sans-serif' font-size="11.5" fill="#3a3a3a" text-anchor="start" font-weight="normal" textLength="6.0" lengthAdjust="spacingAndGlyphs" stroke="#3a3a3a" stroke-width="0.42">80</text>
<text x="483.6" y="743.7" font-family='"Liberation Sans", sans-serif' font-size="11.5" fill="#3a3a3a" text-anchor="start" font-weight="normal" textLength="9.8" lengthAdjust="spacingAndGlyphs" stroke="#3a3a3a" stroke-width="0.42">200</text>
<text x="597.3" y="613.9" font-family='"Liberation Sans", sans-serif' font-size="13.5" fill="#3a3a3a" text-anchor="start" font-weight="normal" textLength="10.2" lengthAdjust="spacingAndGlyphs" stroke="#3a3a3a" stroke-width="0.42">105</text>
<text x="597.3" y="629.3" font-family='"Liberation Sans", sans-serif' font-size="13.5" fill="#3a3a3a" text-anchor="start" font-weight="normal" textLength="10.2" lengthAdjust="spacingAndGlyphs" stroke="#3a3a3a" stroke-width="0.42">210</text>
<text x="270.0" y="421.5" font-family='"Liberation Sans", sans-serif' font-size="11" fill="#3a3a3a" text-anchor="middle" font-weight="normal" textLength="9.5" lengthAdjust="spacingAndGlyphs" transform="rotate(-90 270.0 421.5)" dy="4.0" stroke="#3a3a3a" stroke-width="0.42">140</text>
<text x="285.0" y="421.5" font-family='"Liberation Sans", sans-serif' font-size="11" fill="#3a3a3a" text-anchor="middle" font-weight="normal" textLength="9.5" lengthAdjust="spacingAndGlyphs" transform="rotate(-90 285.0 421.5)" dy="4.0" stroke="#3a3a3a" stroke-width="0.42">210</text>
<text x="465.6" y="341.6" font-family='"Liberation Sans", sans-serif' font-size="11" fill="#3a3a3a" text-anchor="middle" font-weight="normal" textLength="9.5" lengthAdjust="spacingAndGlyphs" transform="rotate(-90 465.6 341.6)" dy="4.0" stroke="#3a3a3a" stroke-width="0.42">140</text>
<text x="480.4" y="341.6" font-family='"Liberation Sans", sans-serif' font-size="11" fill="#3a3a3a" text-anchor="middle" font-weight="normal" textLength="9.5" lengthAdjust="spacingAndGlyphs" transform="rotate(-90 480.4 341.6)" dy="4.0" stroke="#3a3a3a" stroke-width="0.42">210</text>
<text x="440.0" y="597.0" font-family='"Liberation Sans", sans-serif' font-size="11" fill="#3a3a3a" text-anchor="middle" font-weight="normal" textLength="6.5" lengthAdjust="spacingAndGlyphs" transform="rotate(-90 440.0 597.0)" dy="4.0" stroke="#3a3a3a" stroke-width="0.42">80</text>
<text x="454.8" y="599.1" font-family='"Liberation Sans", sans-serif' font-size="11" fill="#3a3a3a" text-anchor="middle" font-weight="normal" textLength="10.5" lengthAdjust="spacingAndGlyphs" transform="rotate(-90 454.8 599.1)" dy="4.0" stroke="#3a3a3a" stroke-width="0.42">200</text>
<text x="514.0" y="631.4" font-family='"Liberation Sans", sans-serif' font-size="10" fill="#3a3a3a" text-anchor="middle" font-weight="normal" textLength="6.2" lengthAdjust="spacingAndGlyphs" transform="rotate(-90 514.0 631.4)" dy="3.6" stroke="#3a3a3a" stroke-width="0.42">70</text>
<text x="529.0" y="633.1" font-family='"Liberation Sans", sans-serif' font-size="10" fill="#3a3a3a" text-anchor="middle" font-weight="normal" textLength="9.6" lengthAdjust="spacingAndGlyphs" transform="rotate(-90 529.0 633.1)" dy="3.6" stroke="#3a3a3a" stroke-width="0.42">200</text>
<text x="374.2" y="760.8" font-family='"Liberation Sans", sans-serif' font-size="10.5" fill="#3a3a3a" text-anchor="middle" font-weight="normal" textLength="6.4" lengthAdjust="spacingAndGlyphs" transform="rotate(-90 374.2 760.8)" dy="3.8" stroke="#3a3a3a" stroke-width="0.42">60</text>
<text x="389.7" y="762.9" font-family='"Liberation Sans", sans-serif' font-size="10.5" fill="#3a3a3a" text-anchor="middle" font-weight="normal" textLength="10.5" lengthAdjust="spacingAndGlyphs" transform="rotate(-90 389.7 762.9)" dy="3.8" stroke="#3a3a3a" stroke-width="0.42">200</text>
<text x="414.8" y="934.2" font-family='"Liberation Sans", sans-serif' font-size="10" fill="#3a3a3a" text-anchor="middle" font-weight="normal" textLength="9.0" lengthAdjust="spacingAndGlyphs" transform="rotate(-90 414.8 934.2)" dy="3.6" stroke="#3a3a3a" stroke-width="0.42">120</text>
<text x="431.6" y="934.2" font-family='"Liberation Sans", sans-serif' font-size="10" fill="#3a3a3a" text-anchor="middle" font-weight="normal" textLength="6.0" lengthAdjust="spacingAndGlyphs" transform="rotate(-90 431.6 934.2)" dy="3.6" stroke="#3a3a3a" stroke-width="0.42">60</text>
<text x="634.3" y="617.0" font-family='"Liberation Sans", sans-serif' font-size="12" fill="#3a3a3a" text-anchor="middle" font-weight="normal" textLength="22.5" lengthAdjust="spacingAndGlyphs" transform="rotate(-90 634.3 617.0)" dy="4.3" stroke="#3a3a3a" stroke-width="0.42">STAN 5</text>
<text x="251.7" y="123.0" font-family='"Liberation Sans", sans-serif' font-size="14.8" fill="#3c3c3c" text-anchor="start" font-weight="normal" textLength="17.6" lengthAdjust="spacingAndGlyphs" stroke="#3c3c3c" stroke-width="0.3">376</text>
<text x="259.4" y="139.8" font-family='"Liberation Sans", sans-serif' font-size="14.8" fill="#3c3c3c" text-anchor="start" font-weight="normal" textLength="15.8" lengthAdjust="spacingAndGlyphs" stroke="#3c3c3c" stroke-width="0.3">351</text>
<text x="168.0" y="138.7" font-family='"Liberation Sans", sans-serif' font-size="14.8" fill="#3c3c3c" text-anchor="start" font-weight="normal" textLength="10.5" lengthAdjust="spacingAndGlyphs" stroke="#3c3c3c" stroke-width="0.3">25</text>
<text x="356.0" y="141.2" font-family='"Liberation Sans", sans-serif' font-size="14.8" fill="#3c3c3c" text-anchor="start" font-weight="normal" textLength="10.5" lengthAdjust="spacingAndGlyphs" stroke="#3c3c3c" stroke-width="0.3">25</text>
<text x="427.0" y="110.9" font-family='"Liberation Sans", sans-serif' font-size="14.8" fill="#3c3c3c" text-anchor="start" font-weight="normal" textLength="21.8" lengthAdjust="spacingAndGlyphs" stroke="#3c3c3c" stroke-width="0.3">1090</text>
<text x="467.4" y="126.7" font-family='"Liberation Sans", sans-serif' font-size="14.8" fill="#3c3c3c" text-anchor="start" font-weight="normal" textLength="16.6" lengthAdjust="spacingAndGlyphs" stroke="#3c3c3c" stroke-width="0.3">489</text>
<text x="467.4" y="144.3" font-family='"Liberation Sans", sans-serif' font-size="14.8" fill="#3c3c3c" text-anchor="start" font-weight="normal" textLength="16.6" lengthAdjust="spacingAndGlyphs" stroke="#3c3c3c" stroke-width="0.3">439</text>
<text x="585.0" y="145.8" font-family='"Liberation Sans", sans-serif' font-size="14.8" fill="#3c3c3c" text-anchor="start" font-weight="normal" textLength="10.6" lengthAdjust="spacingAndGlyphs" stroke="#3c3c3c" stroke-width="0.3">25</text>
<text x="650.5" y="146.5" font-family='"Liberation Sans", sans-serif' font-size="14.8" fill="#3c3c3c" text-anchor="start" font-weight="normal" textLength="11.5" lengthAdjust="spacingAndGlyphs" stroke="#3c3c3c" stroke-width="0.3">25</text>
<text x="622.0" y="128.5" font-family='"Liberation Sans", sans-serif' font-size="14.8" fill="#3c3c3c" text-anchor="start" font-weight="normal" textLength="15.8" lengthAdjust="spacingAndGlyphs" stroke="#3c3c3c" stroke-width="0.3">135</text>
<text x="616.0" y="145.4" font-family='"Liberation Sans", sans-serif' font-size="14.8" fill="#3c3c3c" text-anchor="start" font-weight="normal" textLength="14.7" lengthAdjust="spacingAndGlyphs" stroke="#3c3c3c" stroke-width="0.3">110</text>
<text x="679.2" y="128.5" font-family='"Liberation Sans", sans-serif' font-size="14.8" fill="#3c3c3c" text-anchor="start" font-weight="normal" textLength="12.0" lengthAdjust="spacingAndGlyphs" stroke="#3c3c3c" stroke-width="0.3">90</text>
<text x="679.2" y="145.4" font-family='"Liberation Sans", sans-serif' font-size="14.8" fill="#3c3c3c" text-anchor="start" font-weight="normal" textLength="12.0" lengthAdjust="spacingAndGlyphs" stroke="#3c3c3c" stroke-width="0.3">90</text>
<text x="176.4" y="978.0" font-family='"Liberation Sans", sans-serif' font-size="14.8" fill="#3c3c3c" text-anchor="start" font-weight="normal" textLength="10.1" lengthAdjust="spacingAndGlyphs" stroke="#3c3c3c" stroke-width="0.3">25</text>
<text x="262.4" y="978.0" font-family='"Liberation Sans", sans-serif' font-size="14.8" fill="#3c3c3c" text-anchor="start" font-weight="normal" textLength="16.0" lengthAdjust="spacingAndGlyphs" stroke="#3c3c3c" stroke-width="0.3">335</text>
<text x="351.4" y="975.5" font-family='"Liberation Sans", sans-serif' font-size="14.8" fill="#3c3c3c" text-anchor="start" font-weight="normal" textLength="11.3" lengthAdjust="spacingAndGlyphs" stroke="#3c3c3c" stroke-width="0.3">25</text>
<text x="422.0" y="975.5" font-family='"Liberation Sans", sans-serif' font-size="14.8" fill="#3c3c3c" text-anchor="start" font-weight="normal" textLength="15.8" lengthAdjust="spacingAndGlyphs" stroke="#3c3c3c" stroke-width="0.3">275</text>
<text x="496.7" y="975.0" font-family='"Liberation Sans", sans-serif' font-size="14.8" fill="#3c3c3c" text-anchor="start" font-weight="normal" textLength="10.0" lengthAdjust="spacingAndGlyphs" stroke="#3c3c3c" stroke-width="0.3">20</text>
<text x="569.7" y="975.0" font-family='"Liberation Sans", sans-serif' font-size="14.8" fill="#3c3c3c" text-anchor="start" font-weight="normal" textLength="15.6" lengthAdjust="spacingAndGlyphs" stroke="#3c3c3c" stroke-width="0.3">295</text>
<text x="650.4" y="975.0" font-family='"Liberation Sans", sans-serif' font-size="14.8" fill="#3c3c3c" text-anchor="start" font-weight="normal" textLength="10.1" lengthAdjust="spacingAndGlyphs" stroke="#3c3c3c" stroke-width="0.3">25</text>
<text x="688.0" y="973.8" font-family='"Liberation Sans", sans-serif' font-size="14.8" fill="#3c3c3c" text-anchor="start" font-weight="normal" textLength="17.5" lengthAdjust="spacingAndGlyphs" stroke="#3c3c3c" stroke-width="0.3">145</text>
<text x="688.0" y="988.1" font-family='"Liberation Sans", sans-serif' font-size="14.8" fill="#3c3c3c" text-anchor="start" font-weight="normal" textLength="17.5" lengthAdjust="spacingAndGlyphs" stroke="#3c3c3c" stroke-width="0.3">145</text>
<text x="409.0" y="989.3" font-family='"Liberation Sans", sans-serif' font-size="14.8" fill="#3c3c3c" text-anchor="start" font-weight="normal" textLength="20.8" lengthAdjust="spacingAndGlyphs" stroke="#3c3c3c" stroke-width="0.3">1000</text>
<text x="443.4" y="1003.1" font-family='"Liberation Sans", sans-serif' font-size="14.8" fill="#3c3c3c" text-anchor="start" font-weight="normal" textLength="21.5" lengthAdjust="spacingAndGlyphs" stroke="#3c3c3c" stroke-width="0.3">1145</text>
<text x="71.2" y="309.0" font-family='"Liberation Sans", sans-serif' font-size="14.8" fill="#3c3c3c" text-anchor="middle" font-weight="normal" textLength="15.5" lengthAdjust="spacingAndGlyphs" transform="rotate(-90 71.2 309.0)" dy="5.2" stroke="#3c3c3c" stroke-width="0.3">151</text>
<text x="85.6" y="309.0" font-family='"Liberation Sans", sans-serif' font-size="14.8" fill="#3c3c3c" text-anchor="middle" font-weight="normal" textLength="15.5" lengthAdjust="spacingAndGlyphs" transform="rotate(-90 85.6 309.0)" dy="5.2" stroke="#3c3c3c" stroke-width="0.3">151</text>
<text x="88.3" y="356.5" font-family='"Liberation Sans", sans-serif' font-size="14.8" fill="#3c3c3c" text-anchor="middle" font-weight="normal" textLength="10.5" lengthAdjust="spacingAndGlyphs" transform="rotate(-90 88.3 356.5)" dy="5.2" stroke="#3c3c3c" stroke-width="0.3">25</text>
<text x="88.3" y="398.6" font-family='"Liberation Sans", sans-serif' font-size="14.8" fill="#3c3c3c" text-anchor="middle" font-weight="normal" textLength="16.0" lengthAdjust="spacingAndGlyphs" transform="rotate(-90 88.3 398.6)" dy="5.2" stroke="#3c3c3c" stroke-width="0.3">129</text>
<text x="87.5" y="438.0" font-family='"Liberation Sans", sans-serif' font-size="14.8" fill="#3c3c3c" text-anchor="middle" font-weight="normal" textLength="10.5" lengthAdjust="spacingAndGlyphs" transform="rotate(-90 87.5 438.0)" dy="5.2" stroke="#3c3c3c" stroke-width="0.3">25</text>
<text x="63.7" y="601.8" font-family='"Liberation Sans", sans-serif' font-size="14.8" fill="#3c3c3c" text-anchor="middle" font-weight="normal" textLength="21.0" lengthAdjust="spacingAndGlyphs" transform="rotate(-90 63.7 601.8)" dy="5.2" stroke="#3c3c3c" stroke-width="0.3">1251</text>
<text x="76.5" y="641.7" font-family='"Liberation Sans", sans-serif' font-size="14.8" fill="#3c3c3c" text-anchor="middle" font-weight="normal" textLength="21.0" lengthAdjust="spacingAndGlyphs" transform="rotate(-90 76.5 641.7)" dy="5.2" stroke="#3c3c3c" stroke-width="0.3">1100</text>
<text x="90.8" y="681.5" font-family='"Liberation Sans", sans-serif' font-size="14.8" fill="#3c3c3c" text-anchor="middle" font-weight="normal" textLength="16.0" lengthAdjust="spacingAndGlyphs" transform="rotate(-90 90.8 681.5)" dy="5.2" stroke="#3c3c3c" stroke-width="0.3">896</text>
<text x="91.6" y="920.6" font-family='"Liberation Sans", sans-serif' font-size="14.8" fill="#3c3c3c" text-anchor="middle" font-weight="normal" textLength="10.5" lengthAdjust="spacingAndGlyphs" transform="rotate(-90 91.6 920.6)" dy="5.2" stroke="#3c3c3c" stroke-width="0.3">25</text>
<text x="781.6" y="313.9" font-family='"Liberation Sans", sans-serif' font-size="14.8" fill="#3c3c3c" text-anchor="middle" font-weight="normal" textLength="15.5" lengthAdjust="spacingAndGlyphs" transform="rotate(-90 781.6 313.9)" dy="5.2" stroke="#3c3c3c" stroke-width="0.3">151</text>
<text x="795.9" y="313.9" font-family='"Liberation Sans", sans-serif' font-size="14.8" fill="#3c3c3c" text-anchor="middle" font-weight="normal" textLength="15.5" lengthAdjust="spacingAndGlyphs" transform="rotate(-90 795.9 313.9)" dy="5.2" stroke="#3c3c3c" stroke-width="0.3">151</text>
<text x="782.9" y="362.8" font-family='"Liberation Sans", sans-serif' font-size="14.8" fill="#3c3c3c" text-anchor="middle" font-weight="normal" textLength="10.5" lengthAdjust="spacingAndGlyphs" transform="rotate(-90 782.9 362.8)" dy="5.2" stroke="#3c3c3c" stroke-width="0.3">25</text>
<text x="795.4" y="448.0" font-family='"Liberation Sans", sans-serif' font-size="14.8" fill="#3c3c3c" text-anchor="middle" font-weight="normal" textLength="16.5" lengthAdjust="spacingAndGlyphs" transform="rotate(-90 795.4 448.0)" dy="5.2" stroke="#3c3c3c" stroke-width="0.3">357</text>
<text x="780.9" y="473.0" font-family='"Liberation Sans", sans-serif' font-size="14.8" fill="#3c3c3c" text-anchor="middle" font-weight="normal" textLength="16.5" lengthAdjust="spacingAndGlyphs" transform="rotate(-90 780.9 473.0)" dy="5.2" stroke="#3c3c3c" stroke-width="0.3">400</text>
<text x="780.4" y="582.7" font-family='"Liberation Sans", sans-serif' font-size="14.8" fill="#3c3c3c" text-anchor="middle" font-weight="normal" textLength="10.5" lengthAdjust="spacingAndGlyphs" transform="rotate(-90 780.4 582.7)" dy="5.2" stroke="#3c3c3c" stroke-width="0.3">25</text>
<text x="793.4" y="590.0" font-family='"Liberation Sans", sans-serif' font-size="14.8" fill="#3c3c3c" text-anchor="middle" font-weight="normal" textLength="15.5" lengthAdjust="spacingAndGlyphs" transform="rotate(-90 793.4 590.0)" dy="5.2" stroke="#3c3c3c" stroke-width="0.3">193</text>
<text x="807.4" y="601.5" font-family='"Liberation Sans", sans-serif' font-size="14.8" fill="#3c3c3c" text-anchor="middle" font-weight="normal" textLength="21.0" lengthAdjust="spacingAndGlyphs" transform="rotate(-90 807.4 601.5)" dy="5.2" stroke="#3c3c3c" stroke-width="0.3">1251</text>
<text x="780.4" y="750.6" font-family='"Liberation Sans", sans-serif' font-size="14.8" fill="#3c3c3c" text-anchor="middle" font-weight="normal" textLength="16.5" lengthAdjust="spacingAndGlyphs" transform="rotate(-90 780.4 750.6)" dy="5.2" stroke="#3c3c3c" stroke-width="0.3">625</text>
<text x="793.4" y="783.2" font-family='"Liberation Sans", sans-serif' font-size="14.8" fill="#3c3c3c" text-anchor="middle" font-weight="normal" textLength="16.5" lengthAdjust="spacingAndGlyphs" transform="rotate(-90 793.4 783.2)" dy="5.2" stroke="#3c3c3c" stroke-width="0.3">551</text>
<text x="776.5" y="915.0" font-family='"Liberation Sans", sans-serif' font-size="14.8" fill="#3c3c3c" text-anchor="middle" font-weight="normal" textLength="10.5" lengthAdjust="spacingAndGlyphs" transform="rotate(-90 776.5 915.0)" dy="5.2" stroke="#3c3c3c" stroke-width="0.3">25</text>
</svg>
</body></html>
